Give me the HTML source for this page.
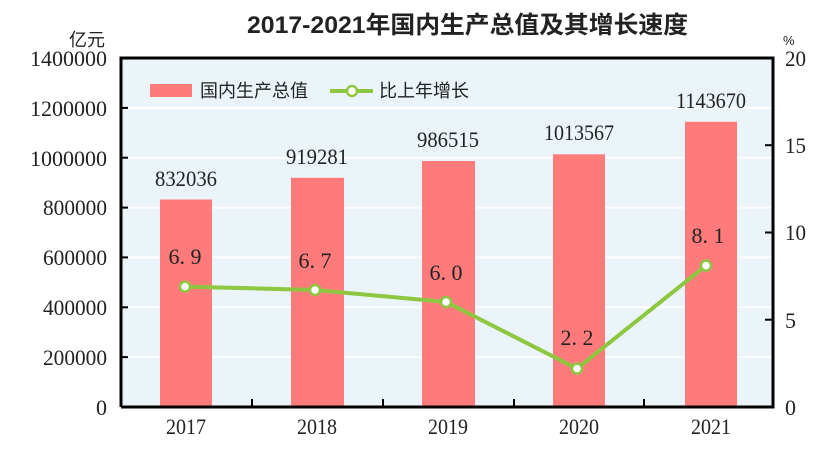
<!DOCTYPE html>
<html><head><meta charset="utf-8"><style>
html,body{margin:0;padding:0;background:#fff;width:831px;height:456px;overflow:hidden}
text{font-family:"Liberation Serif","Noto Serif CJK SC",serif;fill:#222}
.c{font-family:"Liberation Sans","Noto Sans CJK SC",sans-serif}
</style></head><body>
<svg width="831" height="456" xmlns="http://www.w3.org/2000/svg">
<text x="247" y="33" class="c" font-size="24" font-weight="bold" fill="#111" textLength="441" lengthAdjust="spacingAndGlyphs">2017-2021年国内生产总值及其增长速度</text>
<text x="105" y="46" text-anchor="end" class="c" font-size="18">亿元</text>
<text x="783" y="45" class="c" font-size="13">%</text>
<rect x="121" y="58" width="652" height="349" fill="#ebf4f8"/>
<g stroke="#fff" stroke-width="2">
<line x1="121" y1="107.9" x2="773" y2="107.9"/><line x1="121" y1="157.7" x2="773" y2="157.7"/>
<line x1="121" y1="207.6" x2="773" y2="207.6"/><line x1="121" y1="257.4" x2="773" y2="257.4"/>
<line x1="121" y1="307.3" x2="773" y2="307.3"/><line x1="121" y1="357.1" x2="773" y2="357.1"/>
</g>
<g fill="#ff7b7b">
<rect x="160" y="199.5" width="52" height="207.5"/>
<rect x="291" y="177.8" width="53" height="229.2"/>
<rect x="422" y="161" width="53" height="246"/>
<rect x="553" y="154.3" width="52" height="252.7"/>
<rect x="685" y="121.8" width="52" height="285.2"/>
</g>
<g stroke="#000" stroke-width="3" fill="none">
<polyline points="121,407 121,58 773,58 773,407 121,407"/>
</g>
<g stroke="#000" stroke-width="2">
<line x1="121" y1="107.9" x2="128" y2="107.9"/><line x1="121" y1="157.7" x2="128" y2="157.7"/>
<line x1="121" y1="207.6" x2="128" y2="207.6"/><line x1="121" y1="257.4" x2="128" y2="257.4"/>
<line x1="121" y1="307.3" x2="128" y2="307.3"/><line x1="121" y1="357.1" x2="128" y2="357.1"/>
<line x1="773" y1="145.2" x2="765" y2="145.2"/><line x1="773" y1="232.5" x2="765" y2="232.5"/><line x1="773" y1="319.7" x2="765" y2="319.7"/>
<line x1="252" y1="407" x2="252" y2="399"/><line x1="383" y1="407" x2="383" y2="399"/>
<line x1="514" y1="407" x2="514" y2="399"/><line x1="644" y1="407" x2="644" y2="399"/>
</g>
<g font-size="22" text-anchor="end">
<text x="107" y="66" textLength="77" lengthAdjust="spacingAndGlyphs">1400000</text>
<text x="107" y="116" textLength="77" lengthAdjust="spacingAndGlyphs">1200000</text>
<text x="107" y="166" textLength="77" lengthAdjust="spacingAndGlyphs">1000000</text>
<text x="107" y="215" textLength="64" lengthAdjust="spacingAndGlyphs">800000</text>
<text x="107" y="265" textLength="64" lengthAdjust="spacingAndGlyphs">600000</text>
<text x="107" y="315" textLength="64" lengthAdjust="spacingAndGlyphs">400000</text>
<text x="107" y="365" textLength="64" lengthAdjust="spacingAndGlyphs">200000</text>
<text x="107" y="415">0</text>
</g>
<g font-size="22">
<text x="785" y="66" textLength="21" lengthAdjust="spacingAndGlyphs">20</text>
<text x="785" y="153" textLength="21" lengthAdjust="spacingAndGlyphs">15</text>
<text x="785" y="240" textLength="21" lengthAdjust="spacingAndGlyphs">10</text>
<text x="785" y="328">5</text>
<text x="785" y="415">0</text>
</g>
<g font-size="22" text-anchor="middle">
<text x="186" y="434" textLength="40" lengthAdjust="spacingAndGlyphs">2017</text>
<text x="317" y="434" textLength="40" lengthAdjust="spacingAndGlyphs">2018</text>
<text x="448" y="434" textLength="40" lengthAdjust="spacingAndGlyphs">2019</text>
<text x="579" y="434" textLength="40" lengthAdjust="spacingAndGlyphs">2020</text>
<text x="711" y="434" textLength="40" lengthAdjust="spacingAndGlyphs">2021</text>
<text x="186" y="186" textLength="62" lengthAdjust="spacingAndGlyphs">832036</text>
<text x="317" y="164" textLength="62" lengthAdjust="spacingAndGlyphs">919281</text>
<text x="448" y="147" textLength="62" lengthAdjust="spacingAndGlyphs">986515</text>
<text x="579" y="140" textLength="70" lengthAdjust="spacingAndGlyphs">1013567</text>
<text x="711" y="108" textLength="70" lengthAdjust="spacingAndGlyphs">1143670</text>
<text x="185" y="264">6. 9</text>
<text x="315" y="268">6. 7</text>
<text x="446" y="280">6. 0</text>
<text x="577" y="345">2. 2</text>
<text x="708" y="243">8. 1</text>
</g>
<polyline points="185,286.6 315,290 446,302 577,368.6 706,265.6" fill="none" stroke="#8dc63f" stroke-width="4"/>
<g fill="#fff" stroke="#8dc63f" stroke-width="2.5">
<circle cx="185" cy="286.6" r="5"/><circle cx="315" cy="290" r="5"/><circle cx="446" cy="302" r="5"/>
<circle cx="577" cy="368.6" r="5"/><circle cx="706" cy="265.6" r="5"/>
</g>
<rect x="150" y="84" width="42" height="13" fill="#ff7b7b"/>
<text x="200" y="97" class="c" font-size="18">国内生产总值</text>
<line x1="330" y1="91" x2="373" y2="91" stroke="#8dc63f" stroke-width="4"/>
<circle cx="352" cy="91" r="5" fill="#fff" stroke="#8dc63f" stroke-width="2.5"/>
<text x="379" y="97" class="c" font-size="18">比上年增长</text>
</svg>
</body></html>
